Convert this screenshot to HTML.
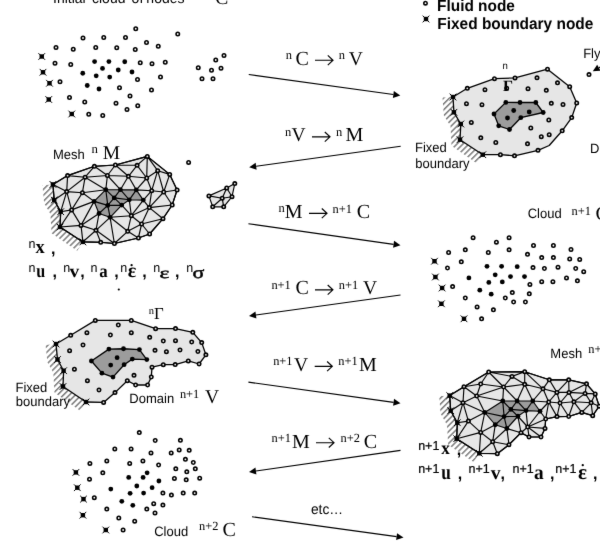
<!DOCTYPE html>
<html><head><meta charset="utf-8"><style>
html,body{margin:0;padding:0;background:#fff;width:600px;height:552px;overflow:hidden}
svg{display:block;filter:grayscale(1);text-rendering:geometricPrecision}
</style></head><body>
<svg width="600" height="552" viewBox="0 0 600 552">
<defs><filter id="soft" x="0" y="0" width="600" height="552" filterUnits="userSpaceOnUse" color-interpolation-filters="sRGB"><feConvolveMatrix order="3" kernelMatrix="0.0052 0.0619 0.0052 0.0619 0.7314 0.0619 0.0052 0.0619 0.0052" edgeMode="duplicate"/></filter></defs>
<g filter="url(#soft)"><rect x="0" y="0" width="600" height="552" fill="#fff"/>
<defs>
<pattern id="hp" width="4.2" height="4.2" patternUnits="userSpaceOnUse" patternTransform="rotate(45)"><rect x="0" y="0" width="1.5" height="4.2" fill="#7a7a7a"/></pattern>
</defs>
<circle cx="135.75" cy="28.75" r="1.7" fill="#fff" stroke="#000" stroke-width="1.6"/>
<circle cx="83.00" cy="38.00" r="1.7" fill="#fff" stroke="#000" stroke-width="1.6"/>
<circle cx="103.75" cy="37.50" r="1.7" fill="#fff" stroke="#000" stroke-width="1.6"/>
<circle cx="125.50" cy="37.50" r="1.7" fill="#fff" stroke="#000" stroke-width="1.6"/>
<circle cx="146.50" cy="42.50" r="1.7" fill="#fff" stroke="#000" stroke-width="1.6"/>
<circle cx="56.00" cy="47.50" r="1.7" fill="#fff" stroke="#000" stroke-width="1.6"/>
<circle cx="73.25" cy="49.25" r="1.7" fill="#fff" stroke="#000" stroke-width="1.6"/>
<circle cx="95.75" cy="47.50" r="1.7" fill="#fff" stroke="#000" stroke-width="1.6"/>
<circle cx="116.75" cy="47.75" r="1.7" fill="#fff" stroke="#000" stroke-width="1.6"/>
<circle cx="135.25" cy="49.50" r="1.7" fill="#fff" stroke="#000" stroke-width="1.6"/>
<circle cx="55.00" cy="63.25" r="1.7" fill="#fff" stroke="#000" stroke-width="1.6"/>
<circle cx="70.75" cy="64.50" r="1.7" fill="#fff" stroke="#000" stroke-width="1.6"/>
<circle cx="140.25" cy="62.75" r="1.7" fill="#fff" stroke="#000" stroke-width="1.6"/>
<circle cx="60.00" cy="81.75" r="1.7" fill="#fff" stroke="#000" stroke-width="1.6"/>
<circle cx="137.50" cy="79.50" r="1.7" fill="#fff" stroke="#000" stroke-width="1.6"/>
<circle cx="119.50" cy="87.75" r="1.7" fill="#fff" stroke="#000" stroke-width="1.6"/>
<circle cx="69.50" cy="97.50" r="1.7" fill="#fff" stroke="#000" stroke-width="1.6"/>
<circle cx="84.75" cy="102.00" r="1.7" fill="#fff" stroke="#000" stroke-width="1.6"/>
<circle cx="116.00" cy="103.25" r="1.7" fill="#fff" stroke="#000" stroke-width="1.6"/>
<circle cx="130.00" cy="96.00" r="1.7" fill="#fff" stroke="#000" stroke-width="1.6"/>
<circle cx="127.00" cy="109.50" r="1.7" fill="#fff" stroke="#000" stroke-width="1.6"/>
<circle cx="137.75" cy="105.75" r="1.7" fill="#fff" stroke="#000" stroke-width="1.6"/>
<circle cx="88.75" cy="114.25" r="1.7" fill="#fff" stroke="#000" stroke-width="1.6"/>
<circle cx="102.75" cy="115.50" r="1.7" fill="#fff" stroke="#000" stroke-width="1.6"/>
<circle cx="177.75" cy="34.00" r="1.7" fill="#fff" stroke="#000" stroke-width="1.6"/>
<circle cx="158.25" cy="46.25" r="1.7" fill="#fff" stroke="#000" stroke-width="1.6"/>
<circle cx="152.00" cy="63.75" r="1.7" fill="#fff" stroke="#000" stroke-width="1.6"/>
<circle cx="165.25" cy="62.25" r="1.7" fill="#fff" stroke="#000" stroke-width="1.6"/>
<circle cx="160.50" cy="77.00" r="1.7" fill="#fff" stroke="#000" stroke-width="1.6"/>
<circle cx="151.50" cy="90.00" r="1.7" fill="#fff" stroke="#000" stroke-width="1.6"/>
<circle cx="198.25" cy="67.75" r="1.7" fill="#fff" stroke="#000" stroke-width="1.6"/>
<circle cx="215.75" cy="60.00" r="1.7" fill="#fff" stroke="#000" stroke-width="1.6"/>
<circle cx="224.00" cy="55.50" r="1.7" fill="#fff" stroke="#000" stroke-width="1.6"/>
<circle cx="211.50" cy="70.25" r="1.7" fill="#fff" stroke="#000" stroke-width="1.6"/>
<circle cx="221.00" cy="68.25" r="1.7" fill="#fff" stroke="#000" stroke-width="1.6"/>
<circle cx="202.00" cy="78.75" r="1.7" fill="#fff" stroke="#000" stroke-width="1.6"/>
<circle cx="213.00" cy="78.75" r="1.7" fill="#fff" stroke="#000" stroke-width="1.6"/>
<circle cx="94.60" cy="61.60" r="2.4" fill="#000"/>
<circle cx="108.90" cy="61.60" r="2.4" fill="#000"/>
<circle cx="124.75" cy="61.75" r="2.4" fill="#000"/>
<circle cx="102.50" cy="68.40" r="2.4" fill="#000"/>
<circle cx="118.25" cy="70.00" r="2.4" fill="#000"/>
<circle cx="132.00" cy="72.00" r="2.4" fill="#000"/>
<circle cx="82.75" cy="73.25" r="2.4" fill="#000"/>
<circle cx="96.20" cy="75.80" r="2.4" fill="#000"/>
<circle cx="109.70" cy="77.10" r="2.4" fill="#000"/>
<circle cx="87.25" cy="85.50" r="2.4" fill="#000"/>
<circle cx="99.00" cy="89.00" r="2.4" fill="#000"/>
<g transform="translate(41.75,56.50)"><rect x="-2.2" y="-2.2" width="4.4" height="4.4"/><path d="M-3.35,-3.35L3.35,3.35M3.35,-3.35L-3.35,3.35" stroke="#000" stroke-width="1.0"/></g>
<g transform="translate(43.00,72.25)"><rect x="-2.2" y="-2.2" width="4.4" height="4.4"/><path d="M-3.35,-3.35L3.35,3.35M3.35,-3.35L-3.35,3.35" stroke="#000" stroke-width="1.0"/></g>
<g transform="translate(49.50,83.25)"><rect x="-2.2" y="-2.2" width="4.4" height="4.4"/><path d="M-3.35,-3.35L3.35,3.35M3.35,-3.35L-3.35,3.35" stroke="#000" stroke-width="1.0"/></g>
<g transform="translate(48.75,99.50)"><rect x="-2.2" y="-2.2" width="4.4" height="4.4"/><path d="M-3.35,-3.35L3.35,3.35M3.35,-3.35L-3.35,3.35" stroke="#000" stroke-width="1.0"/></g>
<g transform="translate(71.75,114.00)"><rect x="-2.2" y="-2.2" width="4.4" height="4.4"/><path d="M-3.35,-3.35L3.35,3.35M3.35,-3.35L-3.35,3.35" stroke="#000" stroke-width="1.0"/></g>
<circle cx="473.10" cy="237.70" r="1.7" fill="#fff" stroke="#000" stroke-width="1.6"/>
<circle cx="496.40" cy="242.20" r="1.7" fill="#fff" stroke="#000" stroke-width="1.6"/>
<circle cx="509.10" cy="237.70" r="1.7" fill="#fff" stroke="#000" stroke-width="1.6"/>
<circle cx="448.60" cy="252.50" r="1.7" fill="#fff" stroke="#000" stroke-width="1.6"/>
<circle cx="465.30" cy="249.80" r="1.7" fill="#fff" stroke="#000" stroke-width="1.6"/>
<circle cx="488.30" cy="252.50" r="1.7" fill="#fff" stroke="#000" stroke-width="1.6"/>
<circle cx="509.10" cy="249.80" r="1.7" fill="#fff" stroke="#000" stroke-width="1.6"/>
<circle cx="461.30" cy="261.80" r="1.7" fill="#fff" stroke="#000" stroke-width="1.6"/>
<circle cx="447.50" cy="268.00" r="1.7" fill="#fff" stroke="#000" stroke-width="1.6"/>
<circle cx="452.60" cy="286.60" r="1.7" fill="#fff" stroke="#000" stroke-width="1.6"/>
<circle cx="465.30" cy="298.00" r="1.7" fill="#fff" stroke="#000" stroke-width="1.6"/>
<circle cx="477.10" cy="306.90" r="1.7" fill="#fff" stroke="#000" stroke-width="1.6"/>
<circle cx="493.40" cy="309.80" r="1.7" fill="#fff" stroke="#000" stroke-width="1.6"/>
<circle cx="481.60" cy="318.80" r="1.7" fill="#fff" stroke="#000" stroke-width="1.6"/>
<circle cx="505.30" cy="298.00" r="1.7" fill="#fff" stroke="#000" stroke-width="1.6"/>
<circle cx="533.50" cy="245.50" r="1.7" fill="#fff" stroke="#000" stroke-width="1.6"/>
<circle cx="553.40" cy="245.50" r="1.7" fill="#fff" stroke="#000" stroke-width="1.6"/>
<circle cx="571.00" cy="249.50" r="1.7" fill="#fff" stroke="#000" stroke-width="1.6"/>
<circle cx="527.50" cy="254.30" r="1.7" fill="#fff" stroke="#000" stroke-width="1.6"/>
<circle cx="541.70" cy="257.60" r="1.7" fill="#fff" stroke="#000" stroke-width="1.6"/>
<circle cx="553.40" cy="257.60" r="1.7" fill="#fff" stroke="#000" stroke-width="1.6"/>
<circle cx="569.70" cy="258.90" r="1.7" fill="#fff" stroke="#000" stroke-width="1.6"/>
<circle cx="579.70" cy="259.40" r="1.7" fill="#fff" stroke="#000" stroke-width="1.6"/>
<circle cx="533.00" cy="267.60" r="1.7" fill="#fff" stroke="#000" stroke-width="1.6"/>
<circle cx="544.40" cy="268.50" r="1.7" fill="#fff" stroke="#000" stroke-width="1.6"/>
<circle cx="558.00" cy="267.20" r="1.7" fill="#fff" stroke="#000" stroke-width="1.6"/>
<circle cx="575.70" cy="268.50" r="1.7" fill="#fff" stroke="#000" stroke-width="1.6"/>
<circle cx="583.70" cy="271.70" r="1.7" fill="#fff" stroke="#000" stroke-width="1.6"/>
<circle cx="529.90" cy="284.40" r="1.7" fill="#fff" stroke="#000" stroke-width="1.6"/>
<circle cx="541.70" cy="281.70" r="1.7" fill="#fff" stroke="#000" stroke-width="1.6"/>
<circle cx="552.90" cy="281.70" r="1.7" fill="#fff" stroke="#000" stroke-width="1.6"/>
<circle cx="566.50" cy="277.90" r="1.7" fill="#fff" stroke="#000" stroke-width="1.6"/>
<circle cx="577.40" cy="280.80" r="1.7" fill="#fff" stroke="#000" stroke-width="1.6"/>
<circle cx="512.30" cy="292.60" r="1.7" fill="#fff" stroke="#000" stroke-width="1.6"/>
<circle cx="529.30" cy="293.80" r="1.7" fill="#fff" stroke="#000" stroke-width="1.6"/>
<circle cx="513.60" cy="302.00" r="1.7" fill="#fff" stroke="#000" stroke-width="1.6"/>
<circle cx="525.40" cy="302.00" r="1.7" fill="#fff" stroke="#000" stroke-width="1.6"/>
<circle cx="487.00" cy="266.30" r="2.4" fill="#000"/>
<circle cx="501.60" cy="266.30" r="2.4" fill="#000"/>
<circle cx="468.90" cy="277.90" r="2.4" fill="#000"/>
<circle cx="495.20" cy="274.80" r="2.4" fill="#000"/>
<circle cx="488.80" cy="282.40" r="2.4" fill="#000"/>
<circle cx="502.30" cy="281.90" r="2.4" fill="#000"/>
<circle cx="479.80" cy="290.20" r="2.4" fill="#000"/>
<circle cx="491.20" cy="294.20" r="2.4" fill="#000"/>
<circle cx="517.20" cy="266.70" r="2.4" fill="#000"/>
<circle cx="510.50" cy="276.60" r="2.4" fill="#000"/>
<circle cx="524.50" cy="276.60" r="2.4" fill="#000"/>
<g transform="translate(434.50,261.20)"><rect x="-2.2" y="-2.2" width="4.4" height="4.4"/><path d="M-3.35,-3.35L3.35,3.35M3.35,-3.35L-3.35,3.35" stroke="#000" stroke-width="1.0"/></g>
<g transform="translate(435.40,277.00)"><rect x="-2.2" y="-2.2" width="4.4" height="4.4"/><path d="M-3.35,-3.35L3.35,3.35M3.35,-3.35L-3.35,3.35" stroke="#000" stroke-width="1.0"/></g>
<g transform="translate(442.10,288.00)"><rect x="-2.2" y="-2.2" width="4.4" height="4.4"/><path d="M-3.35,-3.35L3.35,3.35M3.35,-3.35L-3.35,3.35" stroke="#000" stroke-width="1.0"/></g>
<g transform="translate(441.40,303.80)"><rect x="-2.2" y="-2.2" width="4.4" height="4.4"/><path d="M-3.35,-3.35L3.35,3.35M3.35,-3.35L-3.35,3.35" stroke="#000" stroke-width="1.0"/></g>
<g transform="translate(464.00,318.80)"><rect x="-2.2" y="-2.2" width="4.4" height="4.4"/><path d="M-3.35,-3.35L3.35,3.35M3.35,-3.35L-3.35,3.35" stroke="#000" stroke-width="1.0"/></g>
<circle cx="139.30" cy="432.60" r="1.7" fill="#fff" stroke="#000" stroke-width="1.6"/>
<circle cx="155.20" cy="440.50" r="1.7" fill="#fff" stroke="#000" stroke-width="1.6"/>
<circle cx="114.80" cy="448.90" r="1.7" fill="#fff" stroke="#000" stroke-width="1.6"/>
<circle cx="131.10" cy="448.90" r="1.7" fill="#fff" stroke="#000" stroke-width="1.6"/>
<circle cx="151.00" cy="452.90" r="1.7" fill="#fff" stroke="#000" stroke-width="1.6"/>
<circle cx="89.90" cy="463.40" r="1.7" fill="#fff" stroke="#000" stroke-width="1.6"/>
<circle cx="106.80" cy="460.90" r="1.7" fill="#fff" stroke="#000" stroke-width="1.6"/>
<circle cx="129.70" cy="463.40" r="1.7" fill="#fff" stroke="#000" stroke-width="1.6"/>
<circle cx="142.90" cy="460.90" r="1.7" fill="#fff" stroke="#000" stroke-width="1.6"/>
<circle cx="158.60" cy="465.00" r="1.7" fill="#fff" stroke="#000" stroke-width="1.6"/>
<circle cx="102.80" cy="472.80" r="1.7" fill="#fff" stroke="#000" stroke-width="1.6"/>
<circle cx="89.50" cy="479.20" r="1.7" fill="#fff" stroke="#000" stroke-width="1.6"/>
<circle cx="94.30" cy="497.70" r="1.7" fill="#fff" stroke="#000" stroke-width="1.6"/>
<circle cx="106.80" cy="509.10" r="1.7" fill="#fff" stroke="#000" stroke-width="1.6"/>
<circle cx="118.80" cy="518.00" r="1.7" fill="#fff" stroke="#000" stroke-width="1.6"/>
<circle cx="134.70" cy="521.20" r="1.7" fill="#fff" stroke="#000" stroke-width="1.6"/>
<circle cx="123.10" cy="530.00" r="1.7" fill="#fff" stroke="#000" stroke-width="1.6"/>
<circle cx="146.80" cy="509.10" r="1.7" fill="#fff" stroke="#000" stroke-width="1.6"/>
<circle cx="153.70" cy="503.70" r="1.7" fill="#fff" stroke="#000" stroke-width="1.6"/>
<circle cx="155.00" cy="513.00" r="1.7" fill="#fff" stroke="#000" stroke-width="1.6"/>
<circle cx="180.40" cy="440.30" r="1.7" fill="#fff" stroke="#000" stroke-width="1.6"/>
<circle cx="171.20" cy="452.90" r="1.7" fill="#fff" stroke="#000" stroke-width="1.6"/>
<circle cx="179.20" cy="449.90" r="1.7" fill="#fff" stroke="#000" stroke-width="1.6"/>
<circle cx="189.20" cy="450.30" r="1.7" fill="#fff" stroke="#000" stroke-width="1.6"/>
<circle cx="185.40" cy="459.30" r="1.7" fill="#fff" stroke="#000" stroke-width="1.6"/>
<circle cx="193.30" cy="462.50" r="1.7" fill="#fff" stroke="#000" stroke-width="1.6"/>
<circle cx="175.80" cy="468.80" r="1.7" fill="#fff" stroke="#000" stroke-width="1.6"/>
<circle cx="186.80" cy="471.80" r="1.7" fill="#fff" stroke="#000" stroke-width="1.6"/>
<circle cx="195.30" cy="468.80" r="1.7" fill="#fff" stroke="#000" stroke-width="1.6"/>
<circle cx="174.40" cy="478.40" r="1.7" fill="#fff" stroke="#000" stroke-width="1.6"/>
<circle cx="186.20" cy="479.80" r="1.7" fill="#fff" stroke="#000" stroke-width="1.6"/>
<circle cx="199.70" cy="478.20" r="1.7" fill="#fff" stroke="#000" stroke-width="1.6"/>
<circle cx="162.90" cy="493.10" r="1.7" fill="#fff" stroke="#000" stroke-width="1.6"/>
<circle cx="171.40" cy="495.10" r="1.7" fill="#fff" stroke="#000" stroke-width="1.6"/>
<circle cx="183.20" cy="493.10" r="1.7" fill="#fff" stroke="#000" stroke-width="1.6"/>
<circle cx="194.70" cy="493.10" r="1.7" fill="#fff" stroke="#000" stroke-width="1.6"/>
<circle cx="162.90" cy="505.10" r="1.7" fill="#fff" stroke="#000" stroke-width="1.6"/>
<circle cx="128.70" cy="477.40" r="2.4" fill="#000"/>
<circle cx="143.10" cy="477.40" r="2.4" fill="#000"/>
<circle cx="147.10" cy="472.80" r="2.4" fill="#000"/>
<circle cx="158.90" cy="481.00" r="2.4" fill="#000"/>
<circle cx="110.80" cy="489.10" r="2.4" fill="#000"/>
<circle cx="136.80" cy="486.00" r="2.4" fill="#000"/>
<circle cx="152.10" cy="487.70" r="2.4" fill="#000"/>
<circle cx="130.10" cy="493.30" r="2.4" fill="#000"/>
<circle cx="143.60" cy="493.10" r="2.4" fill="#000"/>
<circle cx="121.80" cy="501.30" r="2.4" fill="#000"/>
<circle cx="132.80" cy="505.30" r="2.4" fill="#000"/>
<g transform="translate(75.90,472.40)"><rect x="-2.2" y="-2.2" width="4.4" height="4.4"/><path d="M-3.35,-3.35L3.35,3.35M3.35,-3.35L-3.35,3.35" stroke="#000" stroke-width="1.0"/></g>
<g transform="translate(77.30,487.70)"><rect x="-2.2" y="-2.2" width="4.4" height="4.4"/><path d="M-3.35,-3.35L3.35,3.35M3.35,-3.35L-3.35,3.35" stroke="#000" stroke-width="1.0"/></g>
<g transform="translate(83.50,499.10)"><rect x="-2.2" y="-2.2" width="4.4" height="4.4"/><path d="M-3.35,-3.35L3.35,3.35M3.35,-3.35L-3.35,3.35" stroke="#000" stroke-width="1.0"/></g>
<g transform="translate(82.90,515.20)"><rect x="-2.2" y="-2.2" width="4.4" height="4.4"/><path d="M-3.35,-3.35L3.35,3.35M3.35,-3.35L-3.35,3.35" stroke="#000" stroke-width="1.0"/></g>
<g transform="translate(105.80,530.00)"><rect x="-2.2" y="-2.2" width="4.4" height="4.4"/><path d="M-3.35,-3.35L3.35,3.35M3.35,-3.35L-3.35,3.35" stroke="#000" stroke-width="1.0"/></g>
<clipPath id="h1"><polygon points="453.00,97.00 453.90,112.30 460.80,124.00 460.00,139.70 482.80,154.70 477.03,163.47 451.47,145.82 450.55,126.28 443.81,115.21 442.52,97.62" fill="#000" stroke="none" stroke-width="1" stroke-linejoin="round"/></clipPath>
<rect x="0" y="0" width="600" height="552" fill="url(#hp)" clip-path="url(#h1)"/>
<polygon points="453.00,97.00 467.30,88.30 494.50,78.70 515.00,77.90 547.50,69.20 569.70,86.70 576.70,103.00 571.70,117.60 562.20,130.80 549.20,145.50 538.00,150.30 514.50,155.80 500.40,154.70 482.80,154.70 460.00,139.70 460.80,124.00 453.90,112.30" fill="#e6e6e6" stroke="#000" stroke-width="1.3" stroke-linejoin="round"/>
<polygon points="505.80,102.40 520.00,102.50 535.80,102.50 543.20,112.50 520.80,117.70 509.50,129.50 498.70,125.80 494.00,114.00" fill="#9c9c9c" stroke="#000" stroke-width="1.3" stroke-linejoin="round"/>
<circle cx="467.30" cy="88.30" r="1.7" fill="#e6e6e6" stroke="#000" stroke-width="1.6"/>
<circle cx="494.50" cy="78.70" r="1.7" fill="#e6e6e6" stroke="#000" stroke-width="1.6"/>
<circle cx="515.00" cy="77.90" r="1.7" fill="#e6e6e6" stroke="#000" stroke-width="1.6"/>
<circle cx="547.50" cy="69.20" r="1.7" fill="#e6e6e6" stroke="#000" stroke-width="1.6"/>
<circle cx="569.70" cy="86.70" r="1.7" fill="#e6e6e6" stroke="#000" stroke-width="1.6"/>
<circle cx="576.70" cy="103.00" r="1.7" fill="#e6e6e6" stroke="#000" stroke-width="1.6"/>
<circle cx="571.70" cy="117.60" r="1.7" fill="#e6e6e6" stroke="#000" stroke-width="1.6"/>
<circle cx="562.20" cy="130.80" r="1.7" fill="#e6e6e6" stroke="#000" stroke-width="1.6"/>
<circle cx="538.00" cy="150.30" r="1.7" fill="#e6e6e6" stroke="#000" stroke-width="1.6"/>
<circle cx="514.50" cy="155.80" r="1.7" fill="#e6e6e6" stroke="#000" stroke-width="1.6"/>
<circle cx="500.40" cy="154.70" r="1.7" fill="#e6e6e6" stroke="#000" stroke-width="1.6"/>
<circle cx="485.00" cy="89.70" r="1.7" fill="#e6e6e6" stroke="#000" stroke-width="1.6"/>
<circle cx="466.50" cy="103.70" r="1.7" fill="#e6e6e6" stroke="#000" stroke-width="1.6"/>
<circle cx="482.00" cy="104.70" r="1.7" fill="#e6e6e6" stroke="#000" stroke-width="1.6"/>
<circle cx="471.30" cy="122.40" r="1.7" fill="#e6e6e6" stroke="#000" stroke-width="1.6"/>
<circle cx="506.70" cy="88.20" r="1.7" fill="#e6e6e6" stroke="#000" stroke-width="1.6"/>
<circle cx="537.00" cy="77.80" r="1.7" fill="#e6e6e6" stroke="#000" stroke-width="1.6"/>
<circle cx="557.50" cy="82.80" r="1.7" fill="#e6e6e6" stroke="#000" stroke-width="1.6"/>
<circle cx="528.00" cy="88.70" r="1.7" fill="#e6e6e6" stroke="#000" stroke-width="1.6"/>
<circle cx="546.30" cy="90.30" r="1.7" fill="#e6e6e6" stroke="#000" stroke-width="1.6"/>
<circle cx="551.30" cy="103.30" r="1.7" fill="#e6e6e6" stroke="#000" stroke-width="1.6"/>
<circle cx="563.00" cy="104.50" r="1.7" fill="#e6e6e6" stroke="#000" stroke-width="1.6"/>
<circle cx="548.80" cy="120.00" r="1.7" fill="#e6e6e6" stroke="#000" stroke-width="1.6"/>
<circle cx="530.80" cy="128.00" r="1.7" fill="#e6e6e6" stroke="#000" stroke-width="1.6"/>
<circle cx="541.30" cy="136.70" r="1.7" fill="#e6e6e6" stroke="#000" stroke-width="1.6"/>
<circle cx="549.20" cy="134.70" r="1.7" fill="#e6e6e6" stroke="#000" stroke-width="1.6"/>
<circle cx="527.50" cy="143.80" r="1.7" fill="#e6e6e6" stroke="#000" stroke-width="1.6"/>
<circle cx="480.80" cy="137.80" r="1.7" fill="#e6e6e6" stroke="#000" stroke-width="1.6"/>
<circle cx="495.80" cy="142.50" r="1.7" fill="#e6e6e6" stroke="#000" stroke-width="1.6"/>
<circle cx="505.80" cy="102.40" r="2.4" fill="#000"/>
<circle cx="520.00" cy="102.50" r="2.4" fill="#000"/>
<circle cx="535.80" cy="102.50" r="2.4" fill="#000"/>
<circle cx="543.20" cy="112.50" r="2.4" fill="#000"/>
<circle cx="520.80" cy="117.70" r="2.4" fill="#000"/>
<circle cx="509.50" cy="129.50" r="2.4" fill="#000"/>
<circle cx="498.70" cy="125.80" r="2.4" fill="#000"/>
<circle cx="494.00" cy="114.00" r="2.4" fill="#000"/>
<circle cx="513.70" cy="110.50" r="2.4" fill="#000"/>
<circle cx="529.20" cy="112.00" r="2.4" fill="#000"/>
<circle cx="507.50" cy="118.00" r="2.4" fill="#000"/>
<g transform="translate(453.00,97.00)"><rect x="-2.2" y="-2.2" width="4.4" height="4.4"/><path d="M-3.35,-3.35L3.35,3.35M3.35,-3.35L-3.35,3.35" stroke="#000" stroke-width="1.0"/></g>
<g transform="translate(482.80,154.70)"><rect x="-2.2" y="-2.2" width="4.4" height="4.4"/><path d="M-3.35,-3.35L3.35,3.35M3.35,-3.35L-3.35,3.35" stroke="#000" stroke-width="1.0"/></g>
<g transform="translate(460.00,139.70)"><rect x="-2.2" y="-2.2" width="4.4" height="4.4"/><path d="M-3.35,-3.35L3.35,3.35M3.35,-3.35L-3.35,3.35" stroke="#000" stroke-width="1.0"/></g>
<g transform="translate(460.80,124.00)"><rect x="-2.2" y="-2.2" width="4.4" height="4.4"/><path d="M-3.35,-3.35L3.35,3.35M3.35,-3.35L-3.35,3.35" stroke="#000" stroke-width="1.0"/></g>
<g transform="translate(453.90,112.30)"><rect x="-2.2" y="-2.2" width="4.4" height="4.4"/><path d="M-3.35,-3.35L3.35,3.35M3.35,-3.35L-3.35,3.35" stroke="#000" stroke-width="1.0"/></g>
<clipPath id="h2"><polygon points="56.00,344.00 57.50,359.50 63.60,370.70 63.00,386.50 86.00,402.00 80.13,410.71 54.46,392.61 53.31,372.80 47.40,362.37 45.55,345.01" fill="#000" stroke="none" stroke-width="1" stroke-linejoin="round"/></clipPath>
<rect x="0" y="0" width="600" height="552" fill="url(#hp)" clip-path="url(#h2)"/>
<polygon points="56.00,344.00 70.70,335.30 95.30,320.40 131.30,320.40 155.60,328.70 175.50,328.60 192.80,332.30 201.70,342.60 205.90,354.80 199.10,364.00 188.30,360.90 175.20,364.60 163.30,364.70 152.00,367.20 151.30,377.00 147.60,385.00 135.60,385.00 127.30,380.70 115.00,392.60 103.60,402.40 86.00,402.00 63.00,386.50 63.60,370.70 57.50,359.50" fill="#e6e6e6" stroke="#000" stroke-width="1.3" stroke-linejoin="round"/>
<polygon points="91.40,361.00 108.90,349.10 123.50,348.75 139.40,349.60 146.80,359.60 132.30,359.10 124.10,364.70 113.00,377.10 101.90,373.20" fill="#9c9c9c" stroke="#000" stroke-width="1.3" stroke-linejoin="round"/>
<circle cx="70.70" cy="335.30" r="1.7" fill="#e6e6e6" stroke="#000" stroke-width="1.6"/>
<circle cx="95.30" cy="320.40" r="1.7" fill="#e6e6e6" stroke="#000" stroke-width="1.6"/>
<circle cx="131.30" cy="320.40" r="1.7" fill="#e6e6e6" stroke="#000" stroke-width="1.6"/>
<circle cx="155.60" cy="328.70" r="1.7" fill="#e6e6e6" stroke="#000" stroke-width="1.6"/>
<circle cx="175.50" cy="328.60" r="1.7" fill="#e6e6e6" stroke="#000" stroke-width="1.6"/>
<circle cx="192.80" cy="332.30" r="1.7" fill="#e6e6e6" stroke="#000" stroke-width="1.6"/>
<circle cx="201.70" cy="342.60" r="1.7" fill="#e6e6e6" stroke="#000" stroke-width="1.6"/>
<circle cx="205.90" cy="354.80" r="1.7" fill="#e6e6e6" stroke="#000" stroke-width="1.6"/>
<circle cx="199.10" cy="364.00" r="1.7" fill="#e6e6e6" stroke="#000" stroke-width="1.6"/>
<circle cx="188.30" cy="360.90" r="1.7" fill="#e6e6e6" stroke="#000" stroke-width="1.6"/>
<circle cx="175.20" cy="364.60" r="1.7" fill="#e6e6e6" stroke="#000" stroke-width="1.6"/>
<circle cx="163.30" cy="364.70" r="1.7" fill="#e6e6e6" stroke="#000" stroke-width="1.6"/>
<circle cx="152.00" cy="367.20" r="1.7" fill="#e6e6e6" stroke="#000" stroke-width="1.6"/>
<circle cx="151.30" cy="377.00" r="1.7" fill="#e6e6e6" stroke="#000" stroke-width="1.6"/>
<circle cx="147.60" cy="385.00" r="1.7" fill="#e6e6e6" stroke="#000" stroke-width="1.6"/>
<circle cx="135.60" cy="385.00" r="1.7" fill="#e6e6e6" stroke="#000" stroke-width="1.6"/>
<circle cx="127.30" cy="380.70" r="1.7" fill="#e6e6e6" stroke="#000" stroke-width="1.6"/>
<circle cx="115.00" cy="392.60" r="1.7" fill="#e6e6e6" stroke="#000" stroke-width="1.6"/>
<circle cx="103.60" cy="402.40" r="1.7" fill="#e6e6e6" stroke="#000" stroke-width="1.6"/>
<circle cx="86.90" cy="332.70" r="1.7" fill="#e6e6e6" stroke="#000" stroke-width="1.6"/>
<circle cx="110.40" cy="335.00" r="1.7" fill="#e6e6e6" stroke="#000" stroke-width="1.6"/>
<circle cx="118.30" cy="325.00" r="1.7" fill="#e6e6e6" stroke="#000" stroke-width="1.6"/>
<circle cx="131.30" cy="332.70" r="1.7" fill="#e6e6e6" stroke="#000" stroke-width="1.6"/>
<circle cx="83.00" cy="345.00" r="1.7" fill="#e6e6e6" stroke="#000" stroke-width="1.6"/>
<circle cx="69.60" cy="350.70" r="1.7" fill="#e6e6e6" stroke="#000" stroke-width="1.6"/>
<circle cx="149.70" cy="337.30" r="1.7" fill="#e6e6e6" stroke="#000" stroke-width="1.6"/>
<circle cx="163.30" cy="341.00" r="1.7" fill="#e6e6e6" stroke="#000" stroke-width="1.6"/>
<circle cx="175.50" cy="340.70" r="1.7" fill="#e6e6e6" stroke="#000" stroke-width="1.6"/>
<circle cx="155.00" cy="350.30" r="1.7" fill="#e6e6e6" stroke="#000" stroke-width="1.6"/>
<circle cx="166.40" cy="351.70" r="1.7" fill="#e6e6e6" stroke="#000" stroke-width="1.6"/>
<circle cx="180.00" cy="350.00" r="1.7" fill="#e6e6e6" stroke="#000" stroke-width="1.6"/>
<circle cx="191.70" cy="342.00" r="1.7" fill="#e6e6e6" stroke="#000" stroke-width="1.6"/>
<circle cx="197.90" cy="351.50" r="1.7" fill="#e6e6e6" stroke="#000" stroke-width="1.6"/>
<circle cx="74.40" cy="369.20" r="1.7" fill="#e6e6e6" stroke="#000" stroke-width="1.6"/>
<circle cx="87.40" cy="380.70" r="1.7" fill="#e6e6e6" stroke="#000" stroke-width="1.6"/>
<circle cx="99.00" cy="390.00" r="1.7" fill="#e6e6e6" stroke="#000" stroke-width="1.6"/>
<circle cx="134.00" cy="375.30" r="1.7" fill="#e6e6e6" stroke="#000" stroke-width="1.6"/>
<circle cx="91.40" cy="361.00" r="2.4" fill="#000"/>
<circle cx="108.90" cy="349.10" r="2.4" fill="#000"/>
<circle cx="123.50" cy="348.75" r="2.4" fill="#000"/>
<circle cx="139.40" cy="349.60" r="2.4" fill="#000"/>
<circle cx="146.80" cy="359.60" r="2.4" fill="#000"/>
<circle cx="132.30" cy="359.10" r="2.4" fill="#000"/>
<circle cx="124.10" cy="364.70" r="2.4" fill="#000"/>
<circle cx="113.00" cy="377.10" r="2.4" fill="#000"/>
<circle cx="101.90" cy="373.20" r="2.4" fill="#000"/>
<circle cx="117.10" cy="357.70" r="2.4" fill="#000"/>
<circle cx="110.70" cy="365.10" r="2.4" fill="#000"/>
<g transform="translate(56.00,344.00)"><rect x="-2.2" y="-2.2" width="4.4" height="4.4"/><path d="M-3.35,-3.35L3.35,3.35M3.35,-3.35L-3.35,3.35" stroke="#000" stroke-width="1.0"/></g>
<g transform="translate(86.00,402.00)"><rect x="-2.2" y="-2.2" width="4.4" height="4.4"/><path d="M-3.35,-3.35L3.35,3.35M3.35,-3.35L-3.35,3.35" stroke="#000" stroke-width="1.0"/></g>
<g transform="translate(63.00,386.50)"><rect x="-2.2" y="-2.2" width="4.4" height="4.4"/><path d="M-3.35,-3.35L3.35,3.35M3.35,-3.35L-3.35,3.35" stroke="#000" stroke-width="1.0"/></g>
<g transform="translate(63.60,370.70)"><rect x="-2.2" y="-2.2" width="4.4" height="4.4"/><path d="M-3.35,-3.35L3.35,3.35M3.35,-3.35L-3.35,3.35" stroke="#000" stroke-width="1.0"/></g>
<g transform="translate(57.50,359.50)"><rect x="-2.2" y="-2.2" width="4.4" height="4.4"/><path d="M-3.35,-3.35L3.35,3.35M3.35,-3.35L-3.35,3.35" stroke="#000" stroke-width="1.0"/></g>
<clipPath id="h3"><polygon points="52.90,184.40 54.20,200.10 60.70,211.70 60.00,227.00 82.90,241.90 77.17,250.70 51.54,233.22 50.44,213.91 44.10,202.98 42.44,185.27" fill="#000" stroke="none" stroke-width="1" stroke-linejoin="round"/></clipPath>
<rect x="0" y="0" width="600" height="552" fill="url(#hp)" clip-path="url(#h3)"/>
<polygon points="52.90,184.40 67.60,175.60 94.40,166.30 115.40,165.00 147.30,156.40 169.70,174.40 177.10,190.00 172.20,205.00 163.00,218.70 149.60,234.00 138.40,238.00 114.40,243.50 100.70,242.30 82.90,241.90 60.00,227.00 60.70,211.70 54.20,200.10" fill="#e6e6e6" stroke="none" stroke-width="1" stroke-linejoin="round"/>
<polygon points="94.10,201.40 105.80,189.70 120.40,189.70 136.30,189.90 143.30,200.10 129.30,199.80 121.75,205.10 110.10,217.30 99.00,213.50" fill="#9c9c9c" stroke="none" stroke-width="1" stroke-linejoin="round"/>
<path d="M157.70,170.70L163.70,192.00 M172.20,205.00L163.70,192.00 M131.30,215.70L141.60,224.00 M163.00,218.70L149.60,234.00 M129.30,199.80L121.75,205.10 M137.10,165.30L128.40,176.30 M105.80,189.70L94.10,201.40 M71.60,209.90L81.00,225.40 M52.90,184.40L66.70,191.60 M107.75,205.40L121.75,205.10 M60.70,211.70L66.70,191.60 M114.40,243.50L110.10,217.30 M60.00,227.00L60.70,211.70 M149.60,234.00L138.40,238.00 M52.90,184.40L54.20,200.10 M60.70,211.70L54.20,200.10 M163.00,218.70L141.60,224.00 M82.40,192.70L71.60,209.90 M107.75,205.40L110.10,217.30 M151.70,190.70L149.30,207.60 M82.40,192.70L94.10,201.40 M151.70,190.70L136.30,189.90 M114.20,197.90L129.30,199.80 M115.40,165.00L137.10,165.30 M149.30,207.60L131.30,215.70 M67.60,175.60L85.10,177.20 M85.10,177.20L105.80,189.70 M82.90,241.90L81.00,225.40 M81.00,225.40L99.00,213.50 M100.70,242.30L82.90,241.90 M114.20,197.90L107.75,205.40 M107.40,175.50L120.40,189.70 M147.30,156.40L157.70,170.70 M100.70,242.30L96.00,230.30 M60.00,227.00L71.60,209.90 M96.00,230.30L110.10,217.30 M82.90,241.90L60.00,227.00 M163.00,218.70L149.30,207.60 M149.30,207.60L143.30,200.10 M94.40,166.30L107.40,175.50 M138.40,238.00L127.70,231.30 M127.70,231.30L110.10,217.30 M151.70,190.70L143.30,200.10 M146.70,178.00L151.70,190.70 M66.70,191.60L82.40,192.70 M115.40,165.00L128.40,176.30 M169.70,174.40L157.70,170.70 M131.30,215.70L143.30,200.10 M128.40,176.30L136.30,189.90 M60.00,227.00L81.00,225.40 M85.10,177.20L107.40,175.50 M67.60,175.60L66.70,191.60 M107.40,175.50L128.40,176.30 M131.30,215.70L127.70,231.30 M131.30,215.70L121.75,205.10 M147.30,156.40L146.70,178.00 M105.80,189.70L107.75,205.40 M81.00,225.40L96.00,230.30 M151.70,190.70L163.70,192.00 M54.20,200.10L66.70,191.60 M163.70,192.00L149.30,207.60 M128.40,176.30L146.70,178.00 M120.40,189.70L129.30,199.80 M66.70,191.60L71.60,209.90 M131.30,215.70L110.10,217.30 M85.10,177.20L82.40,192.70 M136.30,189.90L143.30,200.10 M149.60,234.00L141.60,224.00 M177.10,190.00L163.70,192.00 M169.70,174.40L177.10,190.00 M157.70,170.70L151.70,190.70 M147.30,156.40L137.10,165.30 M67.60,175.60L94.40,166.30 M94.10,201.40L107.75,205.40 M94.40,166.30L85.10,177.20 M138.40,238.00L141.60,224.00 M114.40,243.50L96.00,230.30 M82.40,192.70L105.80,189.70 M172.20,205.00L149.30,207.60 M114.20,197.90L121.75,205.10 M128.40,176.30L120.40,189.70 M137.10,165.30L146.70,178.00 M94.40,166.30L115.40,165.00 M146.70,178.00L136.30,189.90 M149.30,207.60L141.60,224.00 M105.80,189.70L114.20,197.90 M94.10,201.40L99.00,213.50 M81.00,225.40L94.10,201.40 M114.40,243.50L127.70,231.30 M107.75,205.40L99.00,213.50 M115.40,165.00L147.30,156.40 M120.40,189.70L136.30,189.90 M141.60,224.00L127.70,231.30 M121.75,205.10L110.10,217.30 M147.30,156.40L169.70,174.40 M157.70,170.70L146.70,178.00 M120.40,189.70L114.20,197.90 M52.90,184.40L67.60,175.60 M107.40,175.50L105.80,189.70 M138.40,238.00L114.40,243.50 M96.00,230.30L99.00,213.50 M85.10,177.20L66.70,191.60 M136.30,189.90L129.30,199.80 M177.10,190.00L172.20,205.00 M82.90,241.90L96.00,230.30 M60.70,211.70L71.60,209.90 M99.00,213.50L110.10,217.30 M129.30,199.80L143.30,200.10 M115.40,165.00L107.40,175.50 M131.30,215.70L129.30,199.80 M105.80,189.70L120.40,189.70 M114.40,243.50L100.70,242.30 M169.70,174.40L163.70,192.00 M71.60,209.90L94.10,201.40 M172.20,205.00L163.00,218.70" stroke="#000" stroke-width="1.15" fill="none" stroke-linecap="round"/>
<polygon points="52.90,184.40 67.60,175.60 94.40,166.30 115.40,165.00 147.30,156.40 169.70,174.40 177.10,190.00 172.20,205.00 163.00,218.70 149.60,234.00 138.40,238.00 114.40,243.50 100.70,242.30 82.90,241.90 60.00,227.00 60.70,211.70 54.20,200.10" fill="none" stroke="#000" stroke-width="1.2075" stroke-linejoin="round"/>
<circle cx="67.60" cy="175.60" r="1.7" fill="#e6e6e6" stroke="#000" stroke-width="1.6"/>
<circle cx="94.40" cy="166.30" r="1.7" fill="#e6e6e6" stroke="#000" stroke-width="1.6"/>
<circle cx="115.40" cy="165.00" r="1.7" fill="#e6e6e6" stroke="#000" stroke-width="1.6"/>
<circle cx="147.30" cy="156.40" r="1.7" fill="#e6e6e6" stroke="#000" stroke-width="1.6"/>
<circle cx="169.70" cy="174.40" r="1.7" fill="#e6e6e6" stroke="#000" stroke-width="1.6"/>
<circle cx="177.10" cy="190.00" r="1.7" fill="#e6e6e6" stroke="#000" stroke-width="1.6"/>
<circle cx="172.20" cy="205.00" r="1.7" fill="#e6e6e6" stroke="#000" stroke-width="1.6"/>
<circle cx="163.00" cy="218.70" r="1.7" fill="#e6e6e6" stroke="#000" stroke-width="1.6"/>
<circle cx="149.60" cy="234.00" r="1.7" fill="#e6e6e6" stroke="#000" stroke-width="1.6"/>
<circle cx="138.40" cy="238.00" r="1.7" fill="#e6e6e6" stroke="#000" stroke-width="1.6"/>
<circle cx="114.40" cy="243.50" r="1.7" fill="#e6e6e6" stroke="#000" stroke-width="1.6"/>
<circle cx="100.70" cy="242.30" r="1.7" fill="#e6e6e6" stroke="#000" stroke-width="1.6"/>
<circle cx="137.10" cy="165.30" r="1.7" fill="#e6e6e6" stroke="#000" stroke-width="1.6"/>
<circle cx="157.70" cy="170.70" r="1.7" fill="#e6e6e6" stroke="#000" stroke-width="1.6"/>
<circle cx="85.10" cy="177.20" r="1.7" fill="#e6e6e6" stroke="#000" stroke-width="1.6"/>
<circle cx="107.40" cy="175.50" r="1.7" fill="#e6e6e6" stroke="#000" stroke-width="1.6"/>
<circle cx="128.40" cy="176.30" r="1.7" fill="#e6e6e6" stroke="#000" stroke-width="1.6"/>
<circle cx="146.70" cy="178.00" r="1.7" fill="#e6e6e6" stroke="#000" stroke-width="1.6"/>
<circle cx="66.70" cy="191.60" r="1.7" fill="#e6e6e6" stroke="#000" stroke-width="1.6"/>
<circle cx="82.40" cy="192.70" r="1.7" fill="#e6e6e6" stroke="#000" stroke-width="1.6"/>
<circle cx="151.70" cy="190.70" r="1.7" fill="#e6e6e6" stroke="#000" stroke-width="1.6"/>
<circle cx="163.70" cy="192.00" r="1.7" fill="#e6e6e6" stroke="#000" stroke-width="1.6"/>
<circle cx="149.30" cy="207.60" r="1.7" fill="#e6e6e6" stroke="#000" stroke-width="1.6"/>
<circle cx="71.60" cy="209.90" r="1.7" fill="#e6e6e6" stroke="#000" stroke-width="1.6"/>
<circle cx="131.30" cy="215.70" r="1.7" fill="#e6e6e6" stroke="#000" stroke-width="1.6"/>
<circle cx="81.00" cy="225.40" r="1.7" fill="#e6e6e6" stroke="#000" stroke-width="1.6"/>
<circle cx="96.00" cy="230.30" r="1.7" fill="#e6e6e6" stroke="#000" stroke-width="1.6"/>
<circle cx="141.60" cy="224.00" r="1.7" fill="#e6e6e6" stroke="#000" stroke-width="1.6"/>
<circle cx="127.70" cy="231.30" r="1.7" fill="#e6e6e6" stroke="#000" stroke-width="1.6"/>
<circle cx="105.80" cy="189.70" r="2.4" fill="#000"/>
<circle cx="120.40" cy="189.70" r="2.4" fill="#000"/>
<circle cx="136.30" cy="189.90" r="2.4" fill="#000"/>
<circle cx="94.10" cy="201.40" r="2.4" fill="#000"/>
<circle cx="114.20" cy="197.90" r="2.4" fill="#000"/>
<circle cx="129.30" cy="199.80" r="2.4" fill="#000"/>
<circle cx="143.30" cy="200.10" r="2.4" fill="#000"/>
<circle cx="107.75" cy="205.40" r="2.4" fill="#000"/>
<circle cx="121.75" cy="205.10" r="2.4" fill="#000"/>
<circle cx="99.00" cy="213.50" r="2.4" fill="#000"/>
<circle cx="110.10" cy="217.30" r="2.4" fill="#000"/>
<g transform="translate(52.90,184.40)"><rect x="-2.2" y="-2.2" width="4.4" height="4.4"/><path d="M-3.35,-3.35L3.35,3.35M3.35,-3.35L-3.35,3.35" stroke="#000" stroke-width="1.0"/></g>
<g transform="translate(82.90,241.90)"><rect x="-2.2" y="-2.2" width="4.4" height="4.4"/><path d="M-3.35,-3.35L3.35,3.35M3.35,-3.35L-3.35,3.35" stroke="#000" stroke-width="1.0"/></g>
<g transform="translate(60.00,227.00)"><rect x="-2.2" y="-2.2" width="4.4" height="4.4"/><path d="M-3.35,-3.35L3.35,3.35M3.35,-3.35L-3.35,3.35" stroke="#000" stroke-width="1.0"/></g>
<g transform="translate(60.70,211.70)"><rect x="-2.2" y="-2.2" width="4.4" height="4.4"/><path d="M-3.35,-3.35L3.35,3.35M3.35,-3.35L-3.35,3.35" stroke="#000" stroke-width="1.0"/></g>
<g transform="translate(54.20,200.10)"><rect x="-2.2" y="-2.2" width="4.4" height="4.4"/><path d="M-3.35,-3.35L3.35,3.35M3.35,-3.35L-3.35,3.35" stroke="#000" stroke-width="1.0"/></g>
<clipPath id="h4"><polygon points="449.70,395.60 450.70,410.70 457.30,422.70 456.70,438.70 479.30,453.30 473.60,462.12 448.17,444.83 447.03,424.90 440.59,413.54 439.22,396.29" fill="#000" stroke="none" stroke-width="1" stroke-linejoin="round"/></clipPath>
<rect x="0" y="0" width="600" height="552" fill="url(#hp)" clip-path="url(#h4)"/>
<polygon points="449.70,395.60 464.00,386.70 488.70,372.00 524.70,371.70 549.30,379.80 568.70,379.80 586.50,383.80 595.20,393.90 599.20,406.20 592.70,415.70 581.80,412.40 568.70,416.50 557.00,416.60 545.70,419.00 545.00,428.40 541.00,437.00 529.00,437.00 521.00,432.70 509.00,444.70 497.30,453.70 479.30,453.30 456.70,438.70 457.30,422.70 450.70,410.70" fill="#e6e6e6" stroke="none" stroke-width="1" stroke-linejoin="round"/>
<polygon points="484.75,412.50 502.75,401.00 517.10,401.00 532.75,401.00 540.00,411.25 526.00,410.60 517.90,416.25 506.90,428.50 495.25,424.75" fill="#9c9c9c" stroke="none" stroke-width="1" stroke-linejoin="round"/>
<path d="M585.10,393.40L573.90,401.80 M517.90,416.25L506.90,428.50 M517.10,401.00L510.90,409.40 M599.20,406.20L592.70,415.70 M480.70,432.40L495.25,424.75 M557.00,416.60L548.70,402.00 M549.30,379.80L543.00,388.80 M449.70,395.60L450.70,410.70 M464.00,386.70L480.70,384.00 M480.70,384.00L503.60,387.00 M524.70,384.30L517.10,401.00 M509.00,444.70L497.30,453.70 M581.80,412.40L573.90,401.80 M532.75,401.00L526.00,410.60 M595.20,393.90L591.10,402.80 M545.00,428.40L541.00,437.00 M510.90,409.40L517.90,416.25 M592.70,415.70L581.80,412.40 M479.30,453.30L492.70,441.70 M456.70,438.70L480.70,432.40 M492.70,441.70L506.90,428.50 M541.00,437.00L529.00,437.00 M526.00,410.60L540.00,411.25 M480.70,384.00L476.70,396.00 M512.00,376.40L524.70,384.30 M488.70,372.00L512.00,376.40 M502.75,401.00L517.10,401.00 M468.40,421.10L480.70,432.40 M450.70,410.70L463.00,402.70 M463.00,402.70L484.75,412.50 M568.70,379.80L569.00,392.40 M543.00,388.80L548.70,402.00 M526.00,410.60L517.90,416.25 M464.00,386.70L476.70,396.00 M529.00,437.00L521.00,432.70 M502.75,401.00L484.75,412.50 M557.00,416.60L545.70,419.00 M457.30,422.70L450.70,410.70 M463.00,402.70L468.40,421.10 M556.90,392.40L560.00,403.00 M504.10,416.60L517.90,416.25 M545.70,419.00L545.00,428.40 M495.25,424.75L506.90,428.50 M510.90,409.40L526.00,410.60 M541.00,437.00L527.70,427.00 M504.10,416.60L506.90,428.50 M524.70,371.70L543.00,388.80 M497.30,453.70L479.30,453.30 M548.70,402.00L540.00,411.25 M521.00,432.70L527.70,427.00 M585.10,393.40L591.10,402.80 M592.70,415.70L591.10,402.80 M521.00,432.70L517.90,416.25 M502.75,401.00L504.10,416.60 M479.30,453.30L456.70,438.70 M510.90,409.40L504.10,416.60 M468.40,421.10L484.75,412.50 M503.60,387.00L517.10,401.00 M456.70,438.70L468.40,421.10 M557.00,416.60L560.00,403.00 M492.70,441.70L495.25,424.75 M549.30,379.80L556.90,392.40 M543.00,388.80L556.90,392.40 M524.70,384.30L532.75,401.00 M512.00,376.40L503.60,387.00 M488.70,372.00L480.70,384.00 M581.80,412.40L591.10,402.80 M497.30,453.70L492.70,441.70 M568.70,416.50L573.90,401.80 M521.00,432.70L506.90,428.50 M503.60,387.00L524.70,384.30 M456.70,438.70L457.30,422.70 M586.50,383.80L585.10,393.40 M556.90,392.40L569.00,392.40 M545.70,419.00L540.00,411.25 M524.70,371.70L512.00,376.40 M521.00,432.70L509.00,444.70 M449.70,395.60L463.00,402.70 M476.70,396.00L484.75,412.50 M488.70,372.00L503.60,387.00 M569.00,392.40L573.90,401.80 M527.70,427.00L540.00,411.25 M568.70,379.80L586.50,383.80 M545.70,419.00L527.70,427.00 M464.00,386.70L488.70,372.00 M509.00,444.70L506.90,428.50 M524.70,384.30L543.00,388.80 M476.70,396.00L463.00,402.70 M543.00,388.80L532.75,401.00 M545.70,419.00L548.70,402.00 M527.70,427.00L517.90,416.25 M517.10,401.00L526.00,410.60 M479.30,453.30L480.70,432.40 M488.70,372.00L524.70,371.70 M545.00,428.40L527.70,427.00 M599.20,406.20L591.10,402.80 M524.70,371.70L549.30,379.80 M560.00,403.00L573.90,401.80 M532.75,401.00L540.00,411.25 M503.60,387.00L502.75,401.00 M529.00,437.00L527.70,427.00 M457.30,422.70L463.00,402.70 M480.70,432.40L484.75,412.50 M457.30,422.70L468.40,421.10 M573.90,401.80L591.10,402.80 M568.70,379.80L556.90,392.40 M484.75,412.50L504.10,416.60 M476.70,396.00L502.75,401.00 M568.70,416.50L560.00,403.00 M569.00,392.40L585.10,393.40 M549.30,379.80L568.70,379.80 M586.50,383.80L569.00,392.40 M509.00,444.70L492.70,441.70 M449.70,395.60L464.00,386.70 M556.90,392.40L548.70,402.00 M581.80,412.40L568.70,416.50 M524.70,371.70L524.70,384.30 M484.75,412.50L495.25,424.75 M586.50,383.80L595.20,393.90 M569.00,392.40L560.00,403.00 M464.00,386.70L463.00,402.70 M527.70,427.00L526.00,410.60 M517.10,401.00L532.75,401.00 M502.75,401.00L510.90,409.40 M503.60,387.00L476.70,396.00 M595.20,393.90L585.10,393.40 M480.70,432.40L492.70,441.70 M548.70,402.00L560.00,403.00 M504.10,416.60L495.25,424.75 M568.70,416.50L557.00,416.60 M548.70,402.00L532.75,401.00 M595.20,393.90L599.20,406.20" stroke="#000" stroke-width="1.15" fill="none" stroke-linecap="round"/>
<polygon points="449.70,395.60 464.00,386.70 488.70,372.00 524.70,371.70 549.30,379.80 568.70,379.80 586.50,383.80 595.20,393.90 599.20,406.20 592.70,415.70 581.80,412.40 568.70,416.50 557.00,416.60 545.70,419.00 545.00,428.40 541.00,437.00 529.00,437.00 521.00,432.70 509.00,444.70 497.30,453.70 479.30,453.30 456.70,438.70 457.30,422.70 450.70,410.70" fill="none" stroke="#000" stroke-width="1.2075" stroke-linejoin="round"/>
<circle cx="464.00" cy="386.70" r="1.7" fill="#e6e6e6" stroke="#000" stroke-width="1.6"/>
<circle cx="488.70" cy="372.00" r="1.7" fill="#e6e6e6" stroke="#000" stroke-width="1.6"/>
<circle cx="524.70" cy="371.70" r="1.7" fill="#e6e6e6" stroke="#000" stroke-width="1.6"/>
<circle cx="549.30" cy="379.80" r="1.7" fill="#e6e6e6" stroke="#000" stroke-width="1.6"/>
<circle cx="568.70" cy="379.80" r="1.7" fill="#e6e6e6" stroke="#000" stroke-width="1.6"/>
<circle cx="586.50" cy="383.80" r="1.7" fill="#e6e6e6" stroke="#000" stroke-width="1.6"/>
<circle cx="595.20" cy="393.90" r="1.7" fill="#e6e6e6" stroke="#000" stroke-width="1.6"/>
<circle cx="599.20" cy="406.20" r="1.7" fill="#e6e6e6" stroke="#000" stroke-width="1.6"/>
<circle cx="592.70" cy="415.70" r="1.7" fill="#e6e6e6" stroke="#000" stroke-width="1.6"/>
<circle cx="581.80" cy="412.40" r="1.7" fill="#e6e6e6" stroke="#000" stroke-width="1.6"/>
<circle cx="568.70" cy="416.50" r="1.7" fill="#e6e6e6" stroke="#000" stroke-width="1.6"/>
<circle cx="557.00" cy="416.60" r="1.7" fill="#e6e6e6" stroke="#000" stroke-width="1.6"/>
<circle cx="545.70" cy="419.00" r="1.7" fill="#e6e6e6" stroke="#000" stroke-width="1.6"/>
<circle cx="545.00" cy="428.40" r="1.7" fill="#e6e6e6" stroke="#000" stroke-width="1.6"/>
<circle cx="541.00" cy="437.00" r="1.7" fill="#e6e6e6" stroke="#000" stroke-width="1.6"/>
<circle cx="529.00" cy="437.00" r="1.7" fill="#e6e6e6" stroke="#000" stroke-width="1.6"/>
<circle cx="521.00" cy="432.70" r="1.7" fill="#e6e6e6" stroke="#000" stroke-width="1.6"/>
<circle cx="509.00" cy="444.70" r="1.7" fill="#e6e6e6" stroke="#000" stroke-width="1.6"/>
<circle cx="497.30" cy="453.70" r="1.7" fill="#e6e6e6" stroke="#000" stroke-width="1.6"/>
<circle cx="480.70" cy="384.00" r="1.7" fill="#e6e6e6" stroke="#000" stroke-width="1.6"/>
<circle cx="512.00" cy="376.40" r="1.7" fill="#e6e6e6" stroke="#000" stroke-width="1.6"/>
<circle cx="503.60" cy="387.00" r="1.7" fill="#e6e6e6" stroke="#000" stroke-width="1.6"/>
<circle cx="524.70" cy="384.30" r="1.7" fill="#e6e6e6" stroke="#000" stroke-width="1.6"/>
<circle cx="476.70" cy="396.00" r="1.7" fill="#e6e6e6" stroke="#000" stroke-width="1.6"/>
<circle cx="463.00" cy="402.70" r="1.7" fill="#e6e6e6" stroke="#000" stroke-width="1.6"/>
<circle cx="543.00" cy="388.80" r="1.7" fill="#e6e6e6" stroke="#000" stroke-width="1.6"/>
<circle cx="556.90" cy="392.40" r="1.7" fill="#e6e6e6" stroke="#000" stroke-width="1.6"/>
<circle cx="569.00" cy="392.40" r="1.7" fill="#e6e6e6" stroke="#000" stroke-width="1.6"/>
<circle cx="585.10" cy="393.40" r="1.7" fill="#e6e6e6" stroke="#000" stroke-width="1.6"/>
<circle cx="548.70" cy="402.00" r="1.7" fill="#e6e6e6" stroke="#000" stroke-width="1.6"/>
<circle cx="560.00" cy="403.00" r="1.7" fill="#e6e6e6" stroke="#000" stroke-width="1.6"/>
<circle cx="573.90" cy="401.80" r="1.7" fill="#e6e6e6" stroke="#000" stroke-width="1.6"/>
<circle cx="591.10" cy="402.80" r="1.7" fill="#e6e6e6" stroke="#000" stroke-width="1.6"/>
<circle cx="468.40" cy="421.10" r="1.7" fill="#e6e6e6" stroke="#000" stroke-width="1.6"/>
<circle cx="480.70" cy="432.40" r="1.7" fill="#e6e6e6" stroke="#000" stroke-width="1.6"/>
<circle cx="492.70" cy="441.70" r="1.7" fill="#e6e6e6" stroke="#000" stroke-width="1.6"/>
<circle cx="527.70" cy="427.00" r="1.7" fill="#e6e6e6" stroke="#000" stroke-width="1.6"/>
<circle cx="502.75" cy="401.00" r="2.4" fill="#000"/>
<circle cx="517.10" cy="401.00" r="2.4" fill="#000"/>
<circle cx="532.75" cy="401.00" r="2.4" fill="#000"/>
<circle cx="484.75" cy="412.50" r="2.4" fill="#000"/>
<circle cx="510.90" cy="409.40" r="2.4" fill="#000"/>
<circle cx="526.00" cy="410.60" r="2.4" fill="#000"/>
<circle cx="540.00" cy="411.25" r="2.4" fill="#000"/>
<circle cx="504.10" cy="416.60" r="2.4" fill="#000"/>
<circle cx="517.90" cy="416.25" r="2.4" fill="#000"/>
<circle cx="495.25" cy="424.75" r="2.4" fill="#000"/>
<circle cx="506.90" cy="428.50" r="2.4" fill="#000"/>
<g transform="translate(449.70,395.60)"><rect x="-2.2" y="-2.2" width="4.4" height="4.4"/><path d="M-3.35,-3.35L3.35,3.35M3.35,-3.35L-3.35,3.35" stroke="#000" stroke-width="1.0"/></g>
<g transform="translate(479.30,453.30)"><rect x="-2.2" y="-2.2" width="4.4" height="4.4"/><path d="M-3.35,-3.35L3.35,3.35M3.35,-3.35L-3.35,3.35" stroke="#000" stroke-width="1.0"/></g>
<g transform="translate(456.70,438.70)"><rect x="-2.2" y="-2.2" width="4.4" height="4.4"/><path d="M-3.35,-3.35L3.35,3.35M3.35,-3.35L-3.35,3.35" stroke="#000" stroke-width="1.0"/></g>
<g transform="translate(457.30,422.70)"><rect x="-2.2" y="-2.2" width="4.4" height="4.4"/><path d="M-3.35,-3.35L3.35,3.35M3.35,-3.35L-3.35,3.35" stroke="#000" stroke-width="1.0"/></g>
<g transform="translate(450.70,410.70)"><rect x="-2.2" y="-2.2" width="4.4" height="4.4"/><path d="M-3.35,-3.35L3.35,3.35M3.35,-3.35L-3.35,3.35" stroke="#000" stroke-width="1.0"/></g>
<polygon points="208.90,195.90 226.70,188.00 234.80,183.60 232.00,196.70 223.70,206.80 212.70,206.80" fill="#e6e6e6" stroke="none" stroke-width="1" stroke-linejoin="round"/>
<path d="M208.9,195.9L226.7,188 M226.7,188L234.8,183.6 M234.8,183.6L232,196.7 M232,196.7L223.7,206.8 M223.7,206.8L212.7,206.8 M212.7,206.8L208.9,195.9 M208.9,195.9L222.2,198.2 M222.2,198.2L232,196.7 M226.7,188L222.2,198.2 M226.7,188L232,196.7 M212.7,206.8L222.2,198.2 M222.2,198.2L223.7,206.8" stroke="#000" stroke-width="1.15" fill="none"/>
<circle cx="208.90" cy="195.90" r="1.7" fill="#e6e6e6" stroke="#000" stroke-width="1.6"/>
<circle cx="226.70" cy="188.00" r="1.7" fill="#e6e6e6" stroke="#000" stroke-width="1.6"/>
<circle cx="234.80" cy="183.60" r="1.7" fill="#e6e6e6" stroke="#000" stroke-width="1.6"/>
<circle cx="222.20" cy="198.20" r="1.7" fill="#e6e6e6" stroke="#000" stroke-width="1.6"/>
<circle cx="232.00" cy="196.70" r="1.7" fill="#e6e6e6" stroke="#000" stroke-width="1.6"/>
<circle cx="212.70" cy="206.80" r="1.7" fill="#e6e6e6" stroke="#000" stroke-width="1.6"/>
<circle cx="223.70" cy="206.80" r="1.7" fill="#e6e6e6" stroke="#000" stroke-width="1.6"/>
<circle cx="188.60" cy="162.40" r="1.7" fill="#fff" stroke="#000" stroke-width="1.6"/>
<circle cx="589.00" cy="74.60" r="1.7" fill="#fff" stroke="#000" stroke-width="1.6"/>
<line x1="248.75" y1="74.5" x2="393.37" y2="94.54" stroke="#000" stroke-width="1.15"/>
<polygon points="400.3,95.5 392.89,98.01 393.85,91.07" fill="#000"/>
<line x1="400.7" y1="146.2" x2="256.13" y2="166.24" stroke="#000" stroke-width="1.15"/>
<polygon points="249.2,167.2 255.65,162.77 256.61,169.71" fill="#000"/>
<line x1="248.4" y1="223.7" x2="393.57" y2="244.32" stroke="#000" stroke-width="1.15"/>
<polygon points="400.5,245.3 393.08,247.78 394.06,240.85" fill="#000"/>
<line x1="400.5" y1="295.0" x2="255.93" y2="315.04" stroke="#000" stroke-width="1.15"/>
<polygon points="249,316.0 255.45,311.57 256.41,318.51" fill="#000"/>
<line x1="248.4" y1="382.1" x2="393.57" y2="402.33" stroke="#000" stroke-width="1.15"/>
<polygon points="400.5,403.3 393.08,405.80 394.05,398.87" fill="#000"/>
<line x1="400.5" y1="450.4" x2="255.93" y2="471.01" stroke="#000" stroke-width="1.15"/>
<polygon points="249,472.0 255.44,467.55 256.42,474.48" fill="#000"/>
<line x1="252" y1="516.8" x2="396.57" y2="536.65" stroke="#000" stroke-width="1.15"/>
<polygon points="403.5,537.6 396.09,540.12 397.04,533.18" fill="#000"/>
<line x1="608" y1="62.5" x2="598.88" y2="67.72" stroke="#000" stroke-width="1.15"/>
<polygon points="592.8,71.2 597.19,64.77 600.56,70.67" fill="#000"/>
<circle cx="425.50" cy="3.20" r="1.7" fill="#fff" stroke="#000" stroke-width="1.6"/>
<g transform="translate(426.00,19.00)"><rect x="-2.2" y="-2.2" width="4.4" height="4.4"/><path d="M-3.35,-3.35L3.35,3.35M3.35,-3.35L-3.35,3.35" stroke="#000" stroke-width="1.0"/></g>
<text transform="translate(437.07,10.8) scale(1,1.04)" style="font-family:'Liberation Sans',sans-serif;font-size:15.4px;font-weight:bold;">Fluid node</text>
<text transform="translate(437.27,28.5) scale(1,1.04)" style="font-family:'Liberation Sans',sans-serif;font-size:15.45px;font-weight:bold;">Fixed boundary node</text>
<text transform="translate(53.01,3.3) scale(1,1.04)" style="font-family:'Liberation Sans',sans-serif;font-size:14px;">Initial</text>
<text transform="translate(92.01,3.3) scale(1,1.04)" style="font-family:'Liberation Sans',sans-serif;font-size:14px;">cloud</text>
<text transform="translate(131.61,3.3) scale(1,1.04)" style="font-family:'Liberation Sans',sans-serif;font-size:14px;">of</text>
<text transform="translate(146.37,3.3) scale(1,1.04)" style="font-family:'Liberation Sans',sans-serif;font-size:14px;">nodes</text>
<text x="214.98" y="3.7" style="font-family:'Liberation Serif',serif;font-size:20px;">C</text>
<text x="285.7" y="59.4" style="font-family:'Liberation Serif',serif;font-size:12.5px;">n</text>
<text x="295.6" y="64.95" style="font-family:'Liberation Serif',serif;font-size:20px;">C</text>
<path d="M315,60.25H333M327.8,55.45L333,60.25L327.8,65.05" fill="none" stroke="#000" stroke-width="1.15"/>
<text x="338.83" y="59.4" style="font-family:'Liberation Serif',serif;font-size:12.5px;">n</text>
<text x="348.83" y="64.6" style="font-family:'Liberation Serif',serif;font-size:19.5px;">V</text>
<text x="285.08" y="135.65" style="font-family:'Liberation Serif',serif;font-size:12.5px;">n</text>
<text x="291.58" y="141.1" style="font-family:'Liberation Serif',serif;font-size:19.5px;">V</text>
<path d="M312,136.8H330M324.8,132.0L330,136.8L324.8,141.60000000000002" fill="none" stroke="#000" stroke-width="1.15"/>
<text x="336.08" y="135.65" style="font-family:'Liberation Serif',serif;font-size:12.5px;">n</text>
<text x="345.49" y="141.4" style="font-family:'Liberation Serif',serif;font-size:20px;">M</text>
<text x="278.45" y="212.4" style="font-family:'Liberation Serif',serif;font-size:12.5px;">n</text>
<text x="284.86" y="217.65" style="font-family:'Liberation Serif',serif;font-size:20px;">M</text>
<path d="M309,213.3H327M321.8,208.5L327,213.3L321.8,218.10000000000002" fill="none" stroke="#000" stroke-width="1.15"/>
<text x="332.61" y="212.6" style="font-family:'Liberation Serif',serif;font-size:12.4px;">n+1</text>
<text x="356.72" y="218.35" style="font-family:'Liberation Serif',serif;font-size:20px;">C</text>
<text x="271.38" y="288.75" style="font-family:'Liberation Serif',serif;font-size:12.4px;">n+1</text>
<text x="295.57" y="294.45" style="font-family:'Liberation Serif',serif;font-size:20px;">C</text>
<path d="M315,289.8H332.9M327.7,285.0L332.9,289.8L327.7,294.6" fill="none" stroke="#000" stroke-width="1.15"/>
<text x="338.78" y="288.75" style="font-family:'Liberation Serif',serif;font-size:12.4px;">n+1</text>
<text x="363.06" y="294.35" style="font-family:'Liberation Serif',serif;font-size:19.5px;">V</text>
<text x="273.18" y="365.45" style="font-family:'Liberation Serif',serif;font-size:12.4px;">n+1</text>
<text x="293.96" y="370.65" style="font-family:'Liberation Serif',serif;font-size:19.5px;">V</text>
<path d="M314.7,366.3H332.3M327.1,361.5L332.3,366.3L327.1,371.1" fill="none" stroke="#000" stroke-width="1.15"/>
<text x="338.28" y="365.45" style="font-family:'Liberation Serif',serif;font-size:12.4px;">n+1</text>
<text x="359.01" y="370.65" style="font-family:'Liberation Serif',serif;font-size:20px;">M</text>
<text x="271.48" y="441.75" style="font-family:'Liberation Serif',serif;font-size:12.4px;">n+1</text>
<text x="292.11" y="447.65" style="font-family:'Liberation Serif',serif;font-size:20px;">M</text>
<path d="M316,442.7H334M328.8,437.9L334,442.7L328.8,447.5" fill="none" stroke="#000" stroke-width="1.15"/>
<text x="340.6" y="441.75" style="font-family:'Liberation Serif',serif;font-size:12.4px;">n+2</text>
<text x="363.77" y="447.75" style="font-family:'Liberation Serif',serif;font-size:20px;">C</text>
<text transform="translate(310.91,514.27) scale(1,1.04)" style="font-family:'Liberation Sans',sans-serif;font-size:13.8px;">etc…</text>
<text transform="translate(53.03,158.77) scale(1,1.04)" style="font-family:'Liberation Sans',sans-serif;font-size:13px;">Mesh</text>
<text x="91.45" y="153.35" style="font-family:'Liberation Serif',serif;font-size:12.8px;">n</text>
<text x="102.69" y="158.95" style="font-family:'Liberation Serif',serif;font-size:19.5px;">M</text>
<text transform="translate(28.47,247.7) scale(1,1.04)" style="font-family:'Liberation Sans',sans-serif;font-size:12.5px;">n</text>
<text transform="translate(35.53,253.40) scale(1.0,1.069)" style="font-family:'Liberation Serif',serif;font-size:18.44px;font-weight:bold;">x</text>
<text transform="translate(51.11,254.02) scale(1,1.04)" style="font-family:'Liberation Sans',sans-serif;font-size:16px;font-weight:bold;">,</text>
<text transform="translate(28.47,271.7) scale(1,1.04)" style="font-family:'Liberation Sans',sans-serif;font-size:12.5px;">n</text>
<text transform="translate(36.36,277.42) scale(1.0,1.19)" style="font-family:'Liberation Serif',serif;font-size:16.14px;font-weight:bold;">u</text>
<text transform="translate(52.41,277.02) scale(1,1.04)" style="font-family:'Liberation Sans',sans-serif;font-size:16px;font-weight:bold;">,</text>
<text transform="translate(63.17,271.7) scale(1,1.04)" style="font-family:'Liberation Sans',sans-serif;font-size:12.5px;">n</text>
<text transform="translate(69.45,277.07) scale(1.0,0.924)" style="font-family:'Liberation Serif',serif;font-size:19.4px;font-weight:bold;">v</text>
<text transform="translate(80.21,277.02) scale(1,1.04)" style="font-family:'Liberation Sans',sans-serif;font-size:16px;font-weight:bold;">,</text>
<text transform="translate(90.47,271.7) scale(1,1.04)" style="font-family:'Liberation Sans',sans-serif;font-size:12.5px;">n</text>
<text transform="translate(99.21,277.07) scale(1.0,1.094)" style="font-family:'Liberation Serif',serif;font-size:16.79px;font-weight:bold;">a</text>
<text transform="translate(114.21,277.02) scale(1,1.04)" style="font-family:'Liberation Sans',sans-serif;font-size:16px;font-weight:bold;">,</text>
<text transform="translate(120.27,271.7) scale(1,1.04)" style="font-family:'Liberation Sans',sans-serif;font-size:12.5px;">n</text>
<text transform="translate(142.21,277.02) scale(1,1.04)" style="font-family:'Liberation Sans',sans-serif;font-size:16px;font-weight:bold;">,</text>
<text transform="translate(153.17,271.7) scale(1,1.04)" style="font-family:'Liberation Sans',sans-serif;font-size:12.5px;">n</text>
<text transform="translate(174.91,277.02) scale(1,1.04)" style="font-family:'Liberation Sans',sans-serif;font-size:16px;font-weight:bold;">,</text>
<text transform="translate(186.17,271.7) scale(1,1.04)" style="font-family:'Liberation Sans',sans-serif;font-size:12.5px;">n</text>
<text transform="translate(127.76,277.25) scale(1.0,1.0)" style="font-family:'Liberation Serif',serif;font-size:20px;font-weight:bold;">ε</text>
<circle cx="131.6" cy="265.2" r="1.15" fill="#000"/>
<text transform="translate(159.50,278.00) scale(1.5,1.0)" style="font-family:'Liberation Serif',serif;font-size:15.5px;stroke:#000;stroke-width:0.45px">ε</text>
<text transform="translate(192.48,277.98) scale(1.3,1.0)" style="font-family:'Liberation Serif',serif;font-size:16.9px;stroke:#000;stroke-width:0.45px">σ</text>
<circle cx="118.8" cy="289.5" r="1.1" fill="#000"/>
<text transform="translate(415.03,152.17) scale(1,1.04)" style="font-family:'Liberation Sans',sans-serif;font-size:13px;">Fixed</text>
<text transform="translate(415.26,168.2) scale(1,1.04)" style="font-family:'Liberation Sans',sans-serif;font-size:13px;">boundary</text>
<text transform="translate(590.03,152.8) scale(1,1.04)" style="font-family:'Liberation Sans',sans-serif;font-size:13px;">D</text>
<text transform="translate(502.46,69.1) scale(1,1.04)" style="font-family:'Liberation Sans',sans-serif;font-size:9.6px;">n</text>
<text x="503.01" y="90.6" style="font-family:'Liberation Serif',serif;font-size:15.8px;font-weight:bold;">Γ</text>
<text transform="translate(583.13,57.5) scale(1,1.04)" style="font-family:'Liberation Sans',sans-serif;font-size:13px;">Fly</text>
<text transform="translate(527.64,218.07) scale(1,1.04)" style="font-family:'Liberation Sans',sans-serif;font-size:13px;">Cloud</text>
<text x="571.62" y="214.6" style="font-family:'Liberation Serif',serif;font-size:12.4px;">n+1</text>
<text x="595.48" y="219.6" style="font-family:'Liberation Serif',serif;font-size:20px;">C</text>
<text x="148.66" y="313.7" style="font-family:'Liberation Serif',serif;font-size:10.5px;">n</text>
<text x="154.12" y="318.55" style="font-family:'Liberation Serif',serif;font-size:16.8px;">Γ</text>
<text transform="translate(15.53,392.17) scale(1,1.04)" style="font-family:'Liberation Sans',sans-serif;font-size:13px;">Fixed</text>
<text transform="translate(15.76,406.4) scale(1,1.04)" style="font-family:'Liberation Sans',sans-serif;font-size:13px;">boundary</text>
<text transform="translate(129.33,403.47) scale(1,1.04)" style="font-family:'Liberation Sans',sans-serif;font-size:13px;">Domain</text>
<text x="179.93" y="397.95" style="font-family:'Liberation Serif',serif;font-size:12.4px;">n+1</text>
<text x="204.96" y="403.35" style="font-family:'Liberation Serif',serif;font-size:19.5px;">V</text>
<text transform="translate(154.14,536.47) scale(1,1.04)" style="font-family:'Liberation Sans',sans-serif;font-size:13px;">Cloud</text>
<text x="199.1" y="529.95" style="font-family:'Liberation Serif',serif;font-size:12.4px;">n+2</text>
<text x="222.62" y="536.25" style="font-family:'Liberation Serif',serif;font-size:20px;">C</text>
<text transform="translate(550.33,358.47) scale(1,1.04)" style="font-family:'Liberation Sans',sans-serif;font-size:13px;">Mesh</text>
<text x="588.32" y="353.3" style="font-family:'Liberation Serif',serif;font-size:12.4px;">n+1</text>
<text transform="translate(418.17,449.7) scale(1,1.04)" style="font-family:'Liberation Sans',sans-serif;font-size:12.5px;stroke:#000;stroke-width:0.2px">n+1</text>
<text transform="translate(441.28,454.35) scale(1.0,1.069)" style="font-family:'Liberation Serif',serif;font-size:17.12px;font-weight:bold;">x</text>
<text transform="translate(456.71,454.82) scale(1,1.04)" style="font-family:'Liberation Sans',sans-serif;font-size:16px;font-weight:bold;">,</text>
<text transform="translate(418.17,473.0) scale(1,1.04)" style="font-family:'Liberation Sans',sans-serif;font-size:12.5px;stroke:#000;stroke-width:0.2px">n+1</text>
<text transform="translate(441.34,479.39) scale(1.0,1.245)" style="font-family:'Liberation Serif',serif;font-size:17.21px;font-weight:bold;">u</text>
<text transform="translate(457.71,478.52) scale(1,1.04)" style="font-family:'Liberation Sans',sans-serif;font-size:16px;font-weight:bold;">,</text>
<text transform="translate(468.47,473.0) scale(1,1.04)" style="font-family:'Liberation Sans',sans-serif;font-size:12.5px;stroke:#000;stroke-width:0.2px">n+1</text>
<text transform="translate(490.85,478.96) scale(1.0,0.985)" style="font-family:'Liberation Serif',serif;font-size:19.6px;font-weight:bold;">v</text>
<text transform="translate(500.41,478.52) scale(1,1.04)" style="font-family:'Liberation Sans',sans-serif;font-size:16px;font-weight:bold;">,</text>
<text transform="translate(512.47,473.0) scale(1,1.04)" style="font-family:'Liberation Sans',sans-serif;font-size:12.5px;stroke:#000;stroke-width:0.2px">n+1</text>
<text transform="translate(534.03,478.95) scale(1.0,1.058)" style="font-family:'Liberation Serif',serif;font-size:19.33px;font-weight:bold;">a</text>
<text transform="translate(550.01,478.52) scale(1,1.04)" style="font-family:'Liberation Sans',sans-serif;font-size:16px;font-weight:bold;">,</text>
<text transform="translate(555.27,473.0) scale(1,1.04)" style="font-family:'Liberation Sans',sans-serif;font-size:12.5px;stroke:#000;stroke-width:0.2px">n+1</text>
<text transform="translate(577.94,478.94) scale(1.0,1.0)" style="font-family:'Liberation Serif',serif;font-size:21px;font-weight:bold;">ε</text>
<circle cx="582.75" cy="465.2" r="1.15" fill="#000"/>
<text transform="translate(593.11,478.52) scale(1,1.04)" style="font-family:'Liberation Sans',sans-serif;font-size:16px;font-weight:bold;">,</text>
</g>
</svg>
</body></html>
